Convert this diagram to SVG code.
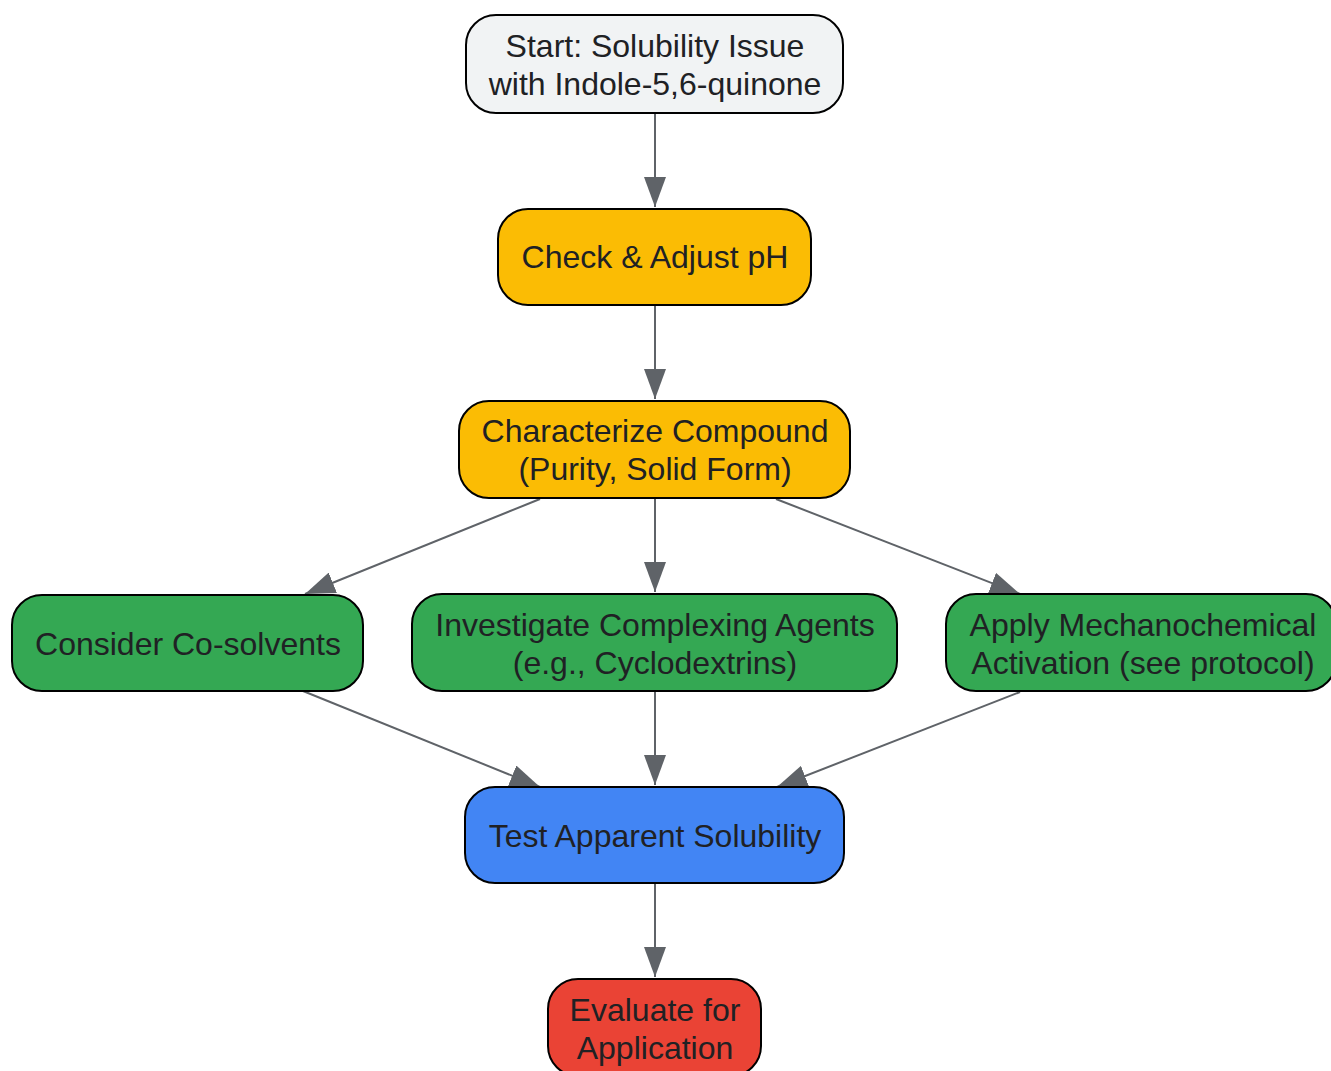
<svg xmlns="http://www.w3.org/2000/svg" width="1331" height="1071" viewBox="0 0 1331 1071">
<style>
.n rect{stroke:#000;stroke-width:2}
.n text{font-family:"Liberation Sans",Arial,sans-serif;font-size:32px;fill:#202124;text-anchor:middle}
.e line{stroke:#5f6368;stroke-width:2;fill:none}
</style>
<defs>
<marker id="ah" markerUnits="userSpaceOnUse" markerWidth="30" markerHeight="22" refX="30" refY="11" orient="auto" viewBox="0 0 30 22">
<path d="M0,0 L30,11 L0,22 z" fill="#5f6368"/>
</marker>
</defs>
<rect width="1331" height="1071" fill="#fff"/>
<g id="connectors" class="e">
<line x1="655" y1="113" x2="655" y2="207" marker-end="url(#ah)"/>
<line x1="655" y1="305" x2="655" y2="399" marker-end="url(#ah)"/>
<line x1="540" y1="499" x2="305" y2="594" marker-end="url(#ah)"/>
<line x1="655" y1="498" x2="655" y2="592" marker-end="url(#ah)"/>
<line x1="776" y1="499" x2="1020" y2="594" marker-end="url(#ah)"/>
<line x1="303" y1="691" x2="540" y2="787" marker-end="url(#ah)"/>
<line x1="655" y1="691" x2="655" y2="785" marker-end="url(#ah)"/>
<line x1="1020" y1="692" x2="777" y2="787" marker-end="url(#ah)"/>
<line x1="655" y1="883" x2="655" y2="977" marker-end="url(#ah)"/>
</g>
<g id="start" class="n">
<rect x="466" y="15" width="377" height="98" rx="30" fill="#f1f3f4"/>
<text x="655" y="57">Start: Solubility Issue</text>
<text x="655" y="95">with Indole-5,6-quinone</text>
</g>
<g id="check" class="n">
<rect x="498" y="209" width="313" height="96" rx="30" fill="#fbbc04"/>
<text x="655" y="268">Check &amp; Adjust pH</text>
</g>
<g id="characterize" class="n">
<rect x="459" y="401" width="391" height="97" rx="30" fill="#fbbc04"/>
<text x="655" y="442">Characterize Compound</text>
<text x="655" y="480">(Purity, Solid Form)</text>
</g>
<g id="cosolvents" class="n">
<rect x="12" y="595" width="351" height="96" rx="30" fill="#34a853"/>
<text x="188" y="655">Consider Co-solvents</text>
</g>
<g id="complexing" class="n">
<rect x="412" y="594" width="485" height="97" rx="30" fill="#34a853"/>
<text x="655" y="636">Investigate Complexing Agents</text>
<text x="655" y="674">(e.g., Cyclodextrins)</text>
</g>
<g id="mechano" class="n">
<rect x="946" y="594" width="390" height="97" rx="30" fill="#34a853"/>
<text x="1143" y="636">Apply Mechanochemical</text>
<text x="1143" y="674">Activation (see protocol)</text>
</g>
<g id="test" class="n">
<rect x="465" y="787" width="379" height="96" rx="30" fill="#4285f4"/>
<text x="655" y="847">Test Apparent Solubility</text>
</g>
<g id="evaluate" class="n">
<rect x="548" y="979" width="213" height="97" rx="30" fill="#ea4335"/>
<text x="655" y="1021">Evaluate for</text>
<text x="655" y="1059">Application</text>
</g>
</svg>
